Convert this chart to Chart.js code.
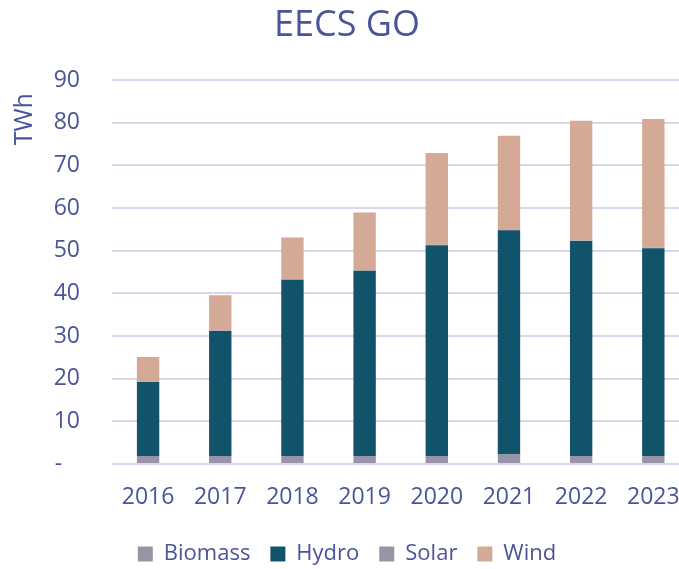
<!DOCTYPE html>
<html>
<head>
<meta charset="utf-8">
<script src="https://cdn.jsdelivr.net/npm/chart.js@4.4.1/dist/chart.umd.min.js"></script>
<style>
  html, body { margin: 0; padding: 0; background: #fff; overflow: hidden; }
  #wrap { width: 700px; height: 569px; }
</style>
</head>
<body>
<div id="wrap"><canvas id="chart" width="700" height="569"></canvas></div>
<script>
const years = ["2016", "2017", "2018", "2019", "2020", "2021", "2022", "2023"];
const biomass = [1.9, 1.9, 1.9, 1.9, 1.9, 2.2, 1.9, 1.9];
const hydro = [17.3, 29.3, 41.3, 43.4, 49.4, 52.6, 50.4, 48.7];
const solar = [0.1, 0.1, 0.1, 0.1, 0.1, 0.1, 0.1, 0.1];
const wind = [5.8, 8.3, 9.8, 13.6, 21.5, 22.1, 28.1, 30.2];

const textColor = "#4a5499";
const fontFamily = "'Open Sans', 'Noto Sans', sans-serif";

let c = document.getElementById("chart").getContext("2d");
let chart = new Chart(c, {
    type: "bar",
    data: {
        labels: years,
        datasets: [
            { label: "Biomass", data: biomass, backgroundColor: "#9794a7" },
            { label: "Hydro", data: hydro, backgroundColor: "#10536a" },
            { label: "Solar", data: solar, backgroundColor: "#9794a7" },
            { label: "Wind", data: wind, backgroundColor: "#d4a995" }
        ]
    },
    options: {
        responsive: false,
        animation: false,
        barPercentage: 0.31,
        categoryPercentage: 1,
        layout: { padding: { left: 0, right: 6, top: 0, bottom: -6 } },
        plugins: {
            title: {
                display: true,
                text: "EECS GO",
                color: textColor,
                font: { family: fontFamily, size: 36, weight: "normal" },
                padding: { top: 4, bottom: 33 }
            },
            legend: {
                position: "bottom",
                labels: {
                    color: textColor,
                    font: { family: fontFamily, size: 22 },
                    boxWidth: 15,
                    boxHeight: 15,
                    padding: 20
                }
            },
            tooltip: { enabled: false }
        },
        scales: {
            x: {
                stacked: true,
                grid: { display: false, drawTicks: false },
                border: { display: false },
                ticks: {
                    color: textColor,
                    font: { family: fontFamily, size: 23 },
                    padding: 20,
                    maxRotation: 0
                },
                afterFit: function (scale) { scale.height = 59; }
            },
            y: {
                stacked: true,
                min: 0,
                max: 90,
                grid: { color: "#d6d7eb", lineWidth: 2, drawTicks: false },
                border: { display: false },
                ticks: {
                    stepSize: 10,
                    color: textColor,
                    font: { family: fontFamily, size: 23 },
                    padding: 32,
                    callback: function (v) { return v === 0 ? "-   " : v; }
                },
                title: {
                    display: true,
                    text: "TWh  ",
                    align: "end",
                    color: textColor,
                    font: { family: fontFamily, size: 25 },
                    padding: { top: 10, bottom: 17 }
                },
                afterFit: function (scale) { scale.width = 112; }
            }
        }
    }
});
</script>
</body>
</html>
